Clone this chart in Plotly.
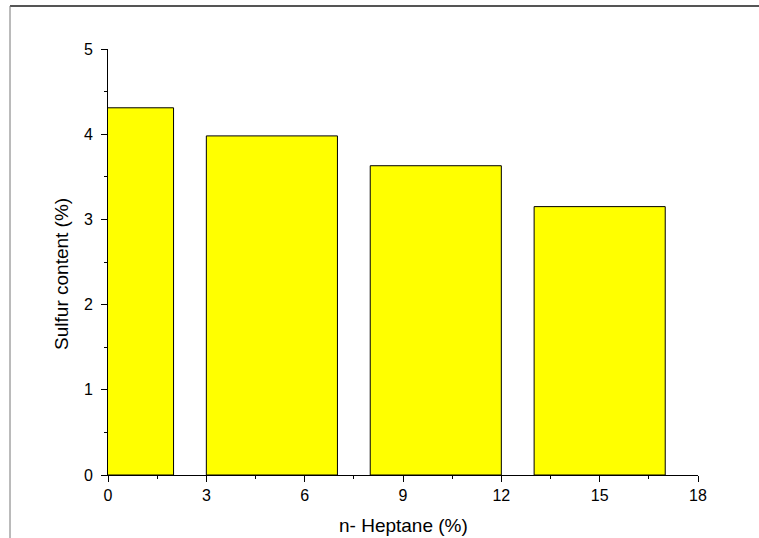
import plotly.graph_objects as go

# Sulfur content of the oil after n-heptane addition
heptane_pct = [0, 5, 10, 15]
sulfur_pct = [4.31, 3.98, 3.63, 3.15]
x_ticks = [0, 3, 6, 9, 12, 15, 18]
y_ticks = [0, 1, 2, 3, 4, 5]
x_title = "n- Heptane (%)"
y_title = "Sulfur content (%)"

fig = go.Figure()
fig.add_trace(go.Bar(
    x=heptane_pct,
    y=sulfur_pct,
    width=4,
    marker=dict(color="#FFFF00", line=dict(color="#000000", width=1)),
))

font = dict(family="Liberation Sans, Arial, sans-serif", size=16, color="#000000")

axis_common = dict(
    ticks="outside",
    ticklen=6,
    tickwidth=1,
    tickcolor="#000000",
    tickfont=dict(size=16),
    showline=True,
    linecolor="#000000",
    linewidth=1,
    showgrid=False,
    zeroline=False,
)

fig.update_layout(
    width=759,
    height=538,
    margin=dict(l=108, r=61, t=49, b=63),
    paper_bgcolor="white",
    plot_bgcolor="white",
    showlegend=False,
    font=font,
    xaxis=dict(
        range=[0, 18],
        tickvals=x_ticks,
        minor=dict(ticks="outside", dtick=1.5, tick0=0, ticklen=3, tickcolor="#000000", showgrid=False),
        **axis_common,
    ),
    yaxis=dict(
        range=[0, 5],
        tickvals=y_ticks,
        ticklabelstandoff=5,
        minor=dict(ticks="outside", dtick=0.5, tick0=0, ticklen=3, tickcolor="#000000", showgrid=False),
        **axis_common,
    ),
)

# Axis titles
fig.add_annotation(text=x_title, xref="paper", yref="paper", x=0.5, y=-0.1197,
                   xanchor="center", yanchor="middle", showarrow=False,
                   font=dict(size=19))
fig.add_annotation(text=y_title, xref="paper", yref="paper", x=-0.078, y=0.472,
                   xanchor="center", yanchor="middle", textangle=-90, showarrow=False,
                   font=dict(size=19))

# Outer frame lines along the top and left edges
fig.add_shape(type="line", xref="paper", yref="paper",
              x0=-0.1661, x1=1.11, y0=1.1009, y1=1.1009,
              line=dict(color="#555555", width=2))
fig.add_shape(type="line", xref="paper", yref="paper",
              x0=-0.1661, x1=-0.1661, y0=1.1009, y1=-0.16,
              line=dict(color="#777777", width=1))

fig.write_html("out.html")
